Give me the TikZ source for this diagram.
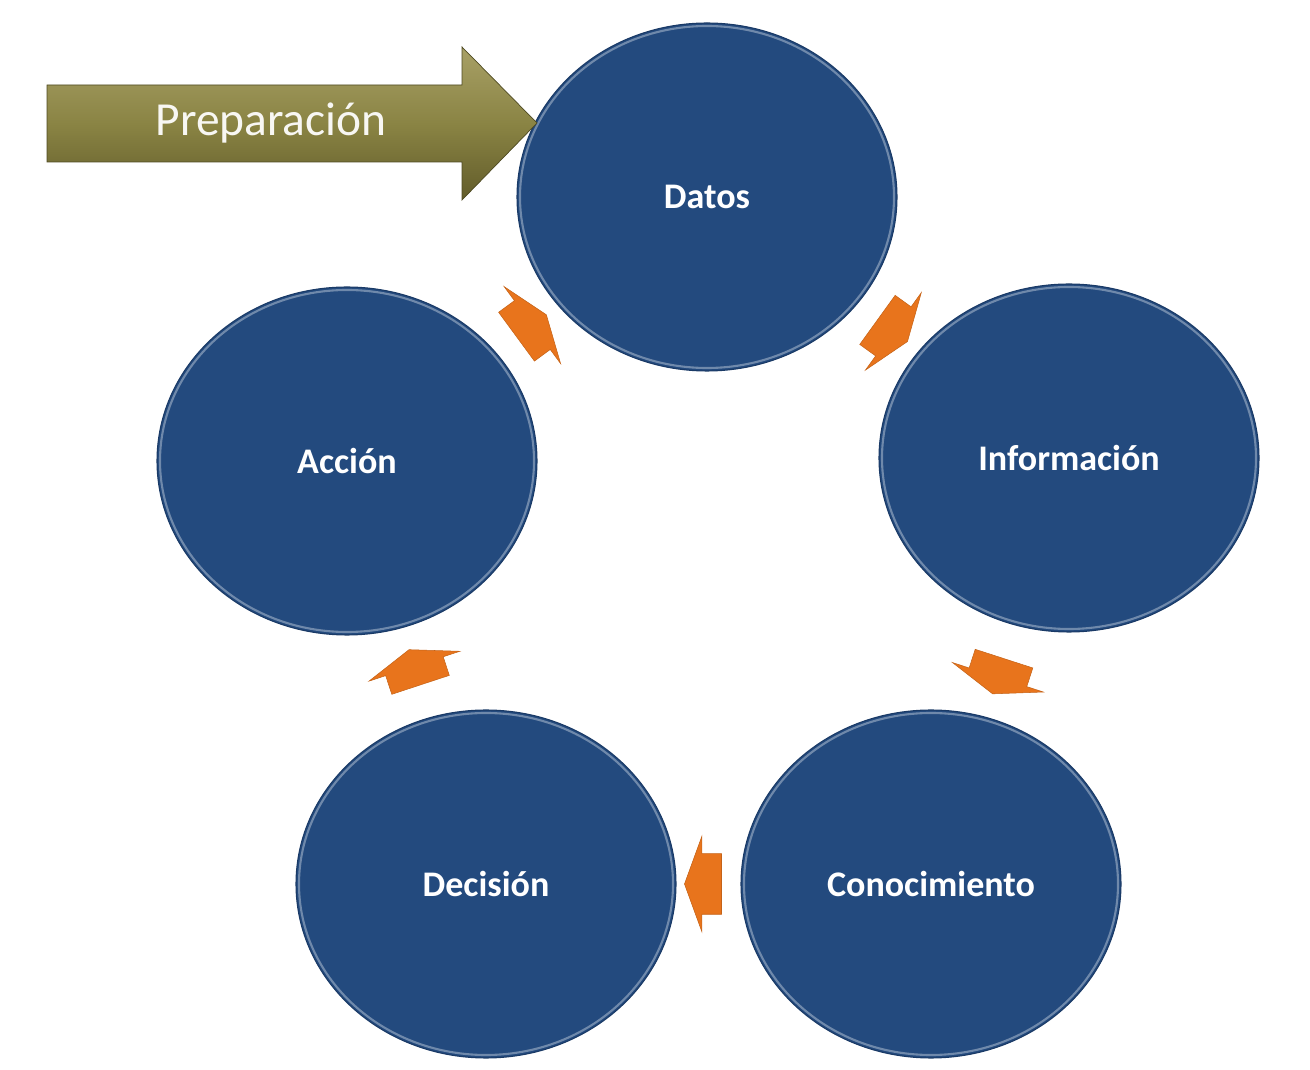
\documentclass[tikz,border=0pt]{standalone}
\usepackage{fontspec}
\setmainfont{Carlito}
\usepackage{tikz}
\usetikzlibrary{shapes.geometric,shapes.arrows}
\definecolor{cycblue}{HTML}{234A7E}
\definecolor{cycedge}{HTML}{1A3A66}
\definecolor{cycorange}{HTML}{E8741C}
\definecolor{olivetop}{HTML}{A8A066}
\definecolor{olivemid}{HTML}{8A8444}
\definecolor{olivebot}{HTML}{625C2A}

\begin{document}
\begin{tikzpicture}[
  x=0.2mm,y=-0.2mm,
  st/.style={ellipse,fill=cycblue,draw=cycedge,line width=0.6pt,inner sep=0pt,
    minimum width=76mm,minimum height=69.6mm,text=white,
    font=\fontsize{20.5}{24}\selectfont\bfseries,
    path picture={\draw[white,line width=1.2pt,opacity=.35]
      (path picture bounding box.center) ellipse (37.4mm and 34.2mm);}},
  cyc/.style={single arrow,fill=cycorange,draw=cycorange!85!black,line width=0.3pt,
    inner xsep=0pt,inner ysep=6mm,minimum height=7.4mm,
    single arrow head extend=3.5mm,single arrow tip angle=140,
    sloped,allow upside down}
]
\useasboundingbox (0,0) rectangle (1310,1070);
% the five stages
\node[st] (d) at (707,197) {Datos};
\node[st] (i) at (1069,458) {Información};
\node[st] (k) at (931,884) {Conocimiento};
\node[st] (e) at (486,884) {Decisión};
\node[st] (a) at (347,461) {Acción};
% big arrow into the cycle
\shade[top color=olivetop,bottom color=olivebot,middle color=olivemid,draw=olivebot!80!black,line width=0.4pt]
  (47,85) -- (462,85) -- (462,47) -- (537,123) -- (462,200) -- (462,162) -- (47,162) -- cycle;
\node[text=white!92!olivetop,font=\fontsize{27}{32}\selectfont] (p) at (271,123) {Preparación};
% cycle arrows
\path (d) -- node[cyc]{} (i);
\path (i) -- node[cyc]{} (k);
\path (k) -- node[cyc]{} (e);
\path (e) -- node[cyc]{} (a);
\path (a) -- node[cyc]{} (d);
\end{tikzpicture}
\end{document}
